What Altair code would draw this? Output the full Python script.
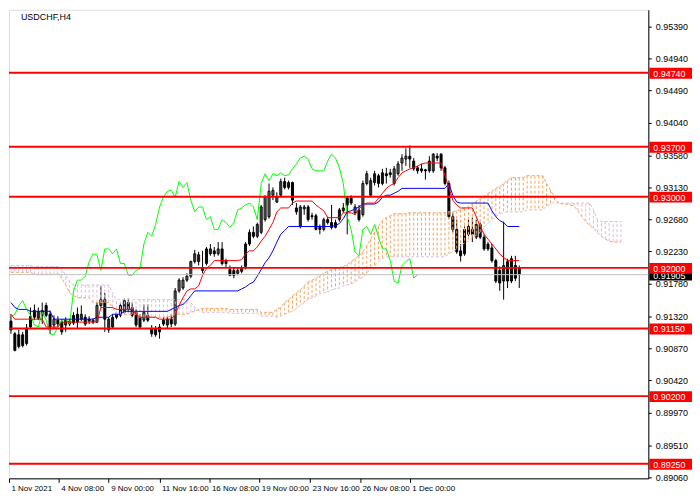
import altair as alt
import pandas as pd

# ---------------- data (USDCHF, H4) ----------------
# candles, bar 0 = first visible bar (1 Nov 2021)
opens = [0.91253, 0.91075, 0.91061, 0.91061, 0.90938, 0.91170, 0.91403, 0.91293, 0.91334, 0.91472,
         0.91349, 0.91198, 0.91266, 0.91239, 0.91198, 0.91212, 0.91225, 0.91349, 0.91280, 0.91307,
         0.91280, 0.91239, 0.91239, 0.91472, 0.91554, 0.91129, 0.91170, 0.91307, 0.91334, 0.91376,
         0.91513, 0.91444, 0.91376, 0.91307, 0.91266, 0.91334, 0.91143, 0.91143, 0.91102, 0.91212,
         0.91198, 0.91280, 0.91212, 0.91677, 0.91718, 0.91828, 0.91883, 0.92088, 0.92088, 0.91992,
         0.92061, 0.92198, 0.92239, 0.92198, 0.92266, 0.92102, 0.91978, 0.91965, 0.91924, 0.91951,
         0.92020, 0.92335, 0.92499, 0.92444, 0.92499, 0.92677, 0.92718, 0.93020, 0.92924, 0.93020,
         0.93212, 0.93129, 0.93198, 0.92841, 0.92581, 0.92828, 0.92855, 0.92732, 0.92732, 0.92568,
         0.92540, 0.92677, 0.92636, 0.92568, 0.92677, 0.92801, 0.92979, 0.92979, 0.92773, 0.92814,
         0.92746, 0.93184, 0.93020, 0.93198, 0.93184, 0.93184, 0.93321, 0.93335, 0.93184, 0.93321,
         0.93472, 0.93527, 0.93568, 0.93499, 0.93404, 0.93390, 0.93376, 0.93362, 0.93362, 0.93568,
         0.93596, 0.93404, 0.93184, 0.92718, 0.92540, 0.92239, 0.92198, 0.92472, 0.92540, 0.92431,
         0.92609, 0.92431, 0.92335, 0.92280, 0.92102, 0.91965, 0.91815, 0.91815, 0.91815, 0.92034,
         0.91992]
highs = [0.91349, 0.91102, 0.91129, 0.91102, 0.91212, 0.91444, 0.91486, 0.91444, 0.91513, 0.91513,
         0.91403, 0.91334, 0.91321, 0.91280, 0.91307, 0.91280, 0.91376, 0.91444, 0.91472, 0.91349,
         0.91321, 0.91293, 0.91513, 0.91745, 0.91650, 0.91307, 0.91349, 0.91376, 0.91513, 0.91568,
         0.91568, 0.91513, 0.91417, 0.91349, 0.91486, 0.91486, 0.91198, 0.91184, 0.91212, 0.91307,
         0.91321, 0.91349, 0.91718, 0.91855, 0.91869, 0.91924, 0.92102, 0.92253, 0.92225, 0.92239,
         0.92294, 0.92335, 0.92294, 0.92362, 0.92362, 0.92129, 0.92034, 0.92006, 0.92006, 0.92034,
         0.92362, 0.92540, 0.92581, 0.92636, 0.92883, 0.93020, 0.93184, 0.93129, 0.93061, 0.93253,
         0.93266, 0.93225, 0.93212, 0.92910, 0.92883, 0.92883, 0.92883, 0.92773, 0.92760, 0.92609,
         0.92705, 0.92718, 0.92883, 0.92677, 0.92841, 0.92910, 0.93006, 0.93020, 0.92896, 0.92883,
         0.93225, 0.93362, 0.93266, 0.93362, 0.93321, 0.93390, 0.93404, 0.93390, 0.93431, 0.93499,
         0.93596, 0.93678, 0.93719, 0.93541, 0.93431, 0.93459, 0.93390, 0.93568, 0.93610, 0.93610,
         0.93610, 0.93431, 0.93225, 0.92773, 0.92677, 0.92335, 0.92581, 0.92677, 0.92705, 0.92677,
         0.92636, 0.92472, 0.92362, 0.92335, 0.92129, 0.92020, 0.92650, 0.92129, 0.92170, 0.92170,
         0.92034]
lows = [0.91075, 0.90828, 0.90869, 0.90883, 0.90910, 0.91143, 0.91266, 0.91266, 0.91212, 0.91307,
        0.91075, 0.91156, 0.91170, 0.91061, 0.91102, 0.91184, 0.91198, 0.91143, 0.91253, 0.91184,
        0.91212, 0.91212, 0.91225, 0.91444, 0.91102, 0.91088, 0.91143, 0.91280, 0.91307, 0.91349,
        0.91376, 0.91307, 0.91170, 0.91143, 0.91239, 0.91239, 0.91033, 0.91033, 0.91006, 0.91184,
        0.91156, 0.91170, 0.91184, 0.91650, 0.91691, 0.91801, 0.91855, 0.92061, 0.92034, 0.91924,
        0.92034, 0.92170, 0.92156, 0.92170, 0.92034, 0.92006, 0.91883, 0.91855, 0.91896, 0.91924,
        0.91978, 0.92308, 0.92417, 0.92417, 0.92472, 0.92650, 0.92691, 0.92951, 0.92910, 0.92992,
        0.93102, 0.93102, 0.92883, 0.92746, 0.92554, 0.92746, 0.92650, 0.92677, 0.92526, 0.92472,
        0.92513, 0.92609, 0.92540, 0.92554, 0.92650, 0.92773, 0.92472, 0.92883, 0.92746, 0.92650,
        0.92718, 0.93157, 0.92992, 0.93157, 0.93129, 0.93157, 0.93184, 0.93266, 0.93157, 0.93294,
        0.93362, 0.93431, 0.93404, 0.93362, 0.93321, 0.93335, 0.93239, 0.93335, 0.93335, 0.93499,
        0.93362, 0.93157, 0.92691, 0.92499, 0.92198, 0.92088, 0.92170, 0.92444, 0.92362, 0.92403,
        0.92403, 0.92239, 0.92239, 0.92074, 0.91787, 0.91677, 0.91554, 0.91718, 0.91787, 0.91815,
        0.91718]
closes = [0.91129, 0.90842, 0.90896, 0.90910, 0.91156, 0.91321, 0.91307, 0.91390, 0.91403, 0.91334,
          0.91170, 0.91280, 0.91212, 0.91102, 0.91266, 0.91253, 0.91334, 0.91239, 0.91349, 0.91212,
          0.91253, 0.91266, 0.91472, 0.91554, 0.91280, 0.91280, 0.91307, 0.91349, 0.91472, 0.91540,
          0.91417, 0.91334, 0.91198, 0.91170, 0.91376, 0.91266, 0.91075, 0.91061, 0.91170, 0.91266,
          0.91280, 0.91212, 0.91677, 0.91828, 0.91828, 0.91883, 0.92088, 0.92198, 0.92184, 0.91965,
          0.92266, 0.92266, 0.92198, 0.92266, 0.92061, 0.92061, 0.91896, 0.91896, 0.91965, 0.91992,
          0.92335, 0.92499, 0.92444, 0.92609, 0.92855, 0.92992, 0.93075, 0.93088, 0.92992, 0.93212,
          0.93129, 0.93198, 0.92951, 0.92787, 0.92855, 0.92855, 0.92677, 0.92718, 0.92540, 0.92540,
          0.92677, 0.92636, 0.92568, 0.92636, 0.92814, 0.92841, 0.92883, 0.92910, 0.92855, 0.92677,
          0.93184, 0.93321, 0.93225, 0.93321, 0.93294, 0.93335, 0.93294, 0.93308, 0.93390, 0.93459,
          0.93541, 0.93568, 0.93527, 0.93390, 0.93362, 0.93362, 0.93362, 0.93499, 0.93596, 0.93541,
          0.93404, 0.93184, 0.92718, 0.92540, 0.92225, 0.92170, 0.92540, 0.92581, 0.92472, 0.92609,
          0.92431, 0.92266, 0.92266, 0.92102, 0.91815, 0.91787, 0.92034, 0.92088, 0.92129, 0.91855,
          0.91905]

# Tenkan-sen (red) and Kijun-sen (blue): (bar, price) points
tenkan_bar = [0, 1, 8, 9, 12, 13, 22, 23, 26, 27, 31, 32, 33, 37, 38, 41, 42, 43, 44, 45, 46, 47, 48, 49, 50,
              51, 52, 58, 59, 60, 61, 62, 63, 64, 65, 66, 67, 68, 69, 71, 72, 73, 77, 78, 79, 80, 81, 84, 85,
              87, 88, 89, 90, 91, 93, 94, 95, 96, 97, 98, 99, 100, 101, 102, 103, 104, 105, 106, 110, 111,
              112, 113, 114, 115, 118, 119, 120, 121, 122, 123, 124, 125, 126, 127, 130]
tenkan_val = [0.91349, 0.91280, 0.91280, 0.91170, 0.91170, 0.91239, 0.91239, 0.91444, 0.91444, 0.91417,
              0.91417, 0.91349, 0.91307, 0.91307, 0.91280, 0.91280, 0.91349, 0.91472, 0.91581, 0.91677,
              0.91705, 0.91705, 0.91746, 0.91896, 0.91992, 0.92034, 0.92102, 0.92102, 0.92116, 0.92198,
              0.92239, 0.92239, 0.92294, 0.92376, 0.92444, 0.92540, 0.92636, 0.92787, 0.92841, 0.92841,
              0.92910, 0.92938, 0.92938, 0.92883, 0.92841, 0.92801, 0.92705, 0.92705, 0.92773, 0.92773,
              0.92746, 0.92828, 0.92883, 0.92910, 0.92910, 0.92979, 0.93047, 0.93116, 0.93157, 0.93184,
              0.93266, 0.93335, 0.93362, 0.93390, 0.93404, 0.93431, 0.93459, 0.93472, 0.93472, 0.93294,
              0.93129, 0.92951, 0.92883, 0.92841, 0.92841, 0.92718, 0.92581, 0.92472, 0.92403, 0.92335,
              0.92266, 0.92198, 0.92143, 0.92102, 0.92102]
kijun_bar = [0, 1, 2, 4, 5, 10, 11, 21, 22, 25, 26, 28, 29, 40, 41, 42, 43, 44, 45, 46, 47, 58, 59, 60, 61,
             62, 63, 64, 65, 66, 67, 68, 69, 70, 71, 82, 83, 84, 85, 86, 87, 88, 89, 90, 93, 94, 95, 96, 97,
             98, 99, 100, 111, 112, 113, 114, 115, 122, 123, 124, 125, 126, 127, 130]
kijun_val = [0.91513, 0.91444, 0.91417, 0.91417, 0.91390, 0.91390, 0.91280, 0.91280, 0.91307, 0.91307,
             0.91349, 0.91349, 0.91390, 0.91390, 0.91417, 0.91444, 0.91472, 0.91486, 0.91540, 0.91609,
             0.91677, 0.91677, 0.91705, 0.91732, 0.91773, 0.91801, 0.91883, 0.91978, 0.92074, 0.92143,
             0.92239, 0.92362, 0.92472, 0.92526, 0.92581, 0.92581, 0.92595, 0.92623, 0.92691, 0.92787,
             0.92801, 0.92828, 0.92855, 0.92896, 0.92896, 0.92924, 0.92992, 0.93020, 0.93020, 0.93047,
             0.93075, 0.93116, 0.93116, 0.93184, 0.93020, 0.92924, 0.92910, 0.92910, 0.92801, 0.92718,
             0.92664, 0.92636, 0.92581, 0.92581]

# Senkou span A / B per bar (0..156), written as (price, number of bars) runs
span_a_runs = [(0.91938, 6), (0.91910, 7), (0.91855, 1), (0.91760, 1), (0.91650, 1), (0.91609, 1),
               (0.91581, 4), (0.91513, 5), (0.91444, 1), (0.91349, 6), (0.91307, 8), (0.91321, 1),
               (0.91349, 4), (0.91376, 1), (0.91390, 1), (0.91417, 1), (0.91431, 7), (0.91417, 8),
               (0.91376, 4), (0.91417, 1), (0.91444, 1), (0.91513, 1), (0.91554, 1), (0.91609, 1),
               (0.91650, 1), (0.91691, 1), (0.91746, 1), (0.91801, 1), (0.91828, 1), (0.91855, 1),
               (0.91896, 1), (0.91924, 1), (0.91951, 1), (0.91978, 1), (0.91992, 1), (0.92006, 1),
               (0.92020, 1), (0.92047, 1), (0.92088, 1), (0.92129, 1), (0.92170, 1), (0.92225, 1),
               (0.92308, 1), (0.92403, 1), (0.92499, 1), (0.92581, 1), (0.92664, 1), (0.92705, 1),
               (0.92732, 1), (0.92760, 4), (0.92773, 10), (0.92787, 2), (0.92801, 1), (0.92814, 1),
               (0.92841, 1), (0.92855, 1), (0.92896, 1), (0.92938, 1), (0.92965, 1), (0.93006, 1),
               (0.93047, 1), (0.93075, 1), (0.93116, 1), (0.93143, 1), (0.93184, 1), (0.93225, 1),
               (0.93266, 4), (0.93294, 5), (0.93184, 1), (0.93088, 1), (0.92992, 1), (0.92910, 1),
               (0.92896, 2), (0.92883, 1), (0.92869, 1), (0.92801, 1), (0.92718, 1), (0.92650, 1),
               (0.92595, 1), (0.92554, 1), (0.92499, 1), (0.92444, 1), (0.92403, 1), (0.92376, 1),
               (0.92362, 3)]
span_b_runs = [(0.92034, 6), (0.92020, 7), (0.91978, 1), (0.91896, 1), (0.91815, 1), (0.91760, 10),
               (0.91650, 1), (0.91554, 19), (0.91513, 1), (0.91444, 1), (0.91403, 1), (0.91376, 7),
               (0.91362, 8), (0.91321, 4), (0.91307, 1), (0.91321, 1), (0.91349, 1), (0.91376, 1),
               (0.91390, 1), (0.91431, 1), (0.91472, 1), (0.91513, 1), (0.91554, 1), (0.91581, 1),
               (0.91609, 1), (0.91636, 1), (0.91650, 1), (0.91664, 1), (0.91691, 1), (0.91705, 1),
               (0.91718, 1), (0.91746, 1), (0.91760, 1), (0.91773, 1), (0.91801, 1), (0.91842, 1),
               (0.91869, 1), (0.91924, 1), (0.91978, 1), (0.92034, 1), (0.92088, 1), (0.92129, 1),
               (0.92156, 16), (0.92198, 1), (0.92225, 1), (0.92266, 1), (0.92308, 1), (0.92349, 1),
               (0.92376, 1), (0.92417, 1), (0.92458, 1), (0.92499, 1), (0.92568, 1), (0.92623, 1),
               (0.92677, 1), (0.92718, 1), (0.92760, 1), (0.92773, 1), (0.92787, 5), (0.92814, 5),
               (0.92869, 1), (0.92896, 1), (0.92924, 1), (0.92910, 9), (0.92814, 1), (0.92677, 1),
               (0.92650, 6)]

# horizontal levels, current price, axis ticks
levels = [0.94740, 0.93700, 0.93000, 0.92000, 0.91150, 0.90200, 0.89250]
current_price = 0.91905
price_ticks = [0.95390, 0.94940, 0.94490, 0.94040, 0.93580, 0.93130, 0.92680, 0.92230, 0.91780,
               0.91320, 0.90870, 0.90420, 0.89970, 0.89510, 0.89060]
time_tick_bars = [-0.5, 12.25, 25.0, 38.0, 50.75, 63.5, 76.5, 89.25, 102.0]
time_tick_labels = ["1 Nov 2021", "4 Nov 08:00", "9 Nov 00:00", "11 Nov 16:00", "16 Nov 08:00",
                    "19 Nov 00:00", "23 Nov 16:00", "26 Nov 08:00", "1 Dec 00:00"]
CHIKOU_SHIFT = 26

# ---------------- build tables ----------------
def expand(runs):
    out = []
    for v, n in runs:
        out += [v] * n
    return out

span_a = expand(span_a_runs)
span_b = expand(span_b_runs)
assert len(span_a) == len(span_b) == 157, (len(span_a), len(span_b))
assert len(opens) == len(highs) == len(lows) == len(closes) == 131

candles = pd.DataFrame({"bar": list(range(len(opens))), "open": opens, "high": highs,
                        "low": lows, "close": closes})
candles["bull"] = candles["close"] >= candles["open"]
chikou = pd.DataFrame({"bar": [b - CHIKOU_SHIFT for b in range(CHIKOU_SHIFT, len(closes))],
                       "price": closes[CHIKOU_SHIFT:]})
cloud = pd.DataFrame({"bar": list(range(len(span_a))), "a": span_a, "b": span_b})
cloud["kind"] = ["up" if a >= b else "down" for a, b in zip(span_a, span_b)]
tenkan = pd.DataFrame({"bar": tenkan_bar, "price": tenkan_val})
kijun = pd.DataFrame({"bar": kijun_bar, "price": kijun_val})
lv = pd.DataFrame({"price": levels, "label": [f"{v:.5f}" for v in levels]})
cur = pd.DataFrame({"price": [current_price], "label": [f"{current_price:.5f}"]})

W, H = 644, 472
FONT = "Liberation Sans"
xs = alt.Scale(domain=[-0.5, 163.0], nice=False, zero=False, padding=0)
ys = alt.Scale(domain=[0.89046, 0.95623], nice=False, zero=False, padding=0)

vals_js = "[" + ",".join(str(v) for v in time_tick_bars) + "]"
labs_js = "[" + ",".join("'" + s + "'" for s in time_tick_labels) + "]"
x_axis = alt.Axis(values=time_tick_bars, labelExpr=f"{labs_js}[indexof({vals_js}, datum.value)]",
                  title=None, grid=False, orient="bottom", labelAlign="left", labelBaseline="top",
                  labelPadding=2, labelOffset=2, tickSize=4, labelFlush=False, labelOverlap=False,
                  labelBound=False, domainColor="black", tickColor="black", labelFontSize=8)
y_axis = alt.Axis(values=price_ticks, format=".5f", title=None, grid=False, orient="right",
                  tickSize=3, labelPadding=4, labelOverlap=False, labelBound=False,
                  domainColor="black", tickColor="black", labelFontSize=9)


def X(field):
    return alt.X(field, type="quantitative", scale=xs, axis=x_axis)


def Y(field):
    return alt.Y(field, type="quantitative", scale=ys, axis=y_axis)


wicks = alt.Chart(candles).mark_rule(color="black", strokeWidth=1, clip=True).encode(
    x=X("bar"), y=Y("low"), y2="high")
bodies = alt.Chart(candles).mark_bar(size=2, stroke="black", strokeWidth=1, clip=True).encode(
    x=X("bar"), y=Y("open"), y2="close",
    fill=alt.condition(alt.datum.bull, alt.value("white"), alt.value("black")))

hatch = alt.Chart(cloud).mark_rule(strokeWidth=1, strokeDash=[3, 2], clip=True).encode(
    x=X("bar"), y=Y("a"), y2="b",
    color=alt.Color("kind:N", scale=alt.Scale(domain=["up", "down"], range=["#F4A460", "#D8BFD8"]),
                    legend=None))
line_a = alt.Chart(cloud).mark_line(color="#F4A460", strokeWidth=1, strokeDash=[3, 2], clip=True).encode(
    x=X("bar"), y=Y("a"))
line_b = alt.Chart(cloud).mark_line(color="#D8BFD8", strokeWidth=1, strokeDash=[3, 2], clip=True).encode(
    x=X("bar"), y=Y("b"))

chikou_l = alt.Chart(chikou).mark_line(color="#00FF00", strokeWidth=1, clip=True).encode(
    x=X("bar"), y=Y("price"))
kijun_l = alt.Chart(kijun).mark_line(color="#0000FF", strokeWidth=1, clip=True).encode(
    x=X("bar"), y=Y("price"))
tenkan_l = alt.Chart(tenkan).mark_line(color="#FF0000", strokeWidth=1, clip=True).encode(
    x=X("bar"), y=Y("price"))

cur_line = alt.Chart(cur).mark_rule(color="#C0C0C0", strokeWidth=1).encode(y=Y("price"))
lvl_lines = alt.Chart(lv).mark_rule(color="#FF0000", strokeWidth=2).encode(y=Y("price"))

cur_box = alt.Chart(cur).mark_rect(color="black", yOffset=-5, y2Offset=6, clip=False).encode(
    x=alt.value(W + 1), x2=alt.value(W + 44), y=Y("price"), y2="price")
cur_txt = alt.Chart(cur).mark_text(color="white", align="left", baseline="middle", fontSize=9,
                                   font=FONT, dy=1, clip=False).encode(
    x=alt.value(W + 5), y=Y("price"), text="label:N")
lvl_box = alt.Chart(lv).mark_rect(color="#FF0000", yOffset=-5, y2Offset=6, clip=False).encode(
    x=alt.value(W + 1), x2=alt.value(W + 44), y=Y("price"), y2="price")
lvl_txt = alt.Chart(lv).mark_text(color="white", align="left", baseline="middle", fontSize=9,
                                  font=FONT, dy=1, clip=False).encode(
    x=alt.value(W + 5), y=Y("price"), text="label:N")

chart = alt.layer(
    bodies, wicks, hatch, line_a, line_b, chikou_l, kijun_l, tenkan_l,
    cur_line, lvl_lines, cur_box, cur_txt, lvl_box, lvl_txt,
).properties(
    width=W, height=H,
    padding={"left": 0, "top": 0, "right": 0, "bottom": 0},
    title=alt.TitleParams("USDCHF,H4", anchor="start", offset=-12, dx=13, fontSize=9,
                          fontWeight="normal", font=FONT, color="black"),
).configure_view(stroke=None).configure_axis(
    labelFont=FONT, labelColor="black"
).configure(background="white")

chart.save("out.html", embed_options={"renderer": "svg", "actions": False})
